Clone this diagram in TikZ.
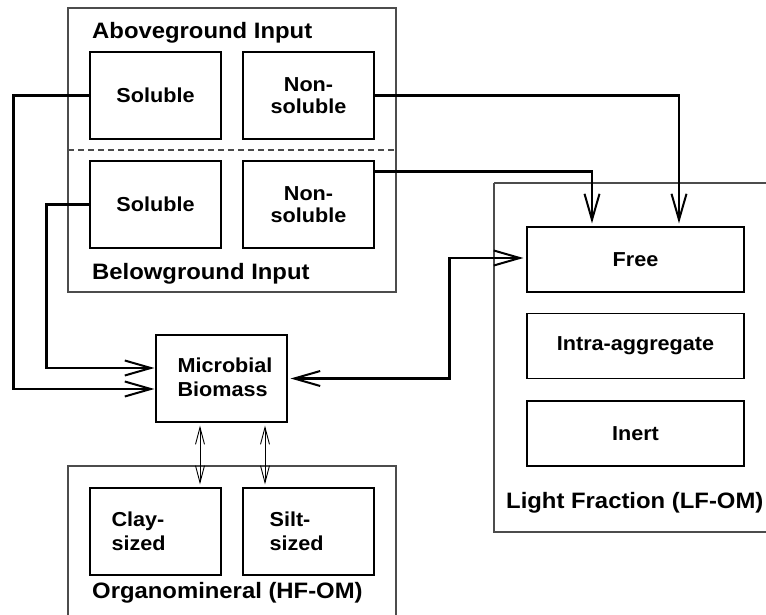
\documentclass[tikz,border=0pt]{standalone}
\usepackage{fontspec}
\setmainfont{Liberation Sans}[FakeStretch=1.07]
\usetikzlibrary{arrows.meta,calc}
\begin{document}
\begin{tikzpicture}[x=1pt,y=-1pt,
  outerbox/.style={draw=black!70,line width=1.1pt},
  innerbox/.style={draw=black,line width=1.2pt,minimum width=131pt,minimum height=87pt,inner sep=0pt,align=center,
     font=\fontsize{20.2}{22.5}\bfseries},
  lfbox/.style={innerbox,minimum width=217pt,minimum height=65pt},
  boxtext/.style={inner sep=0pt,align=left,anchor=west,font=\fontsize{20.2}{23.5}\bfseries},
  title/.style={inner sep=0pt,anchor=base west,font=\fontsize{22.3}{24}\bfseries},
  flow/.style={line width=2.4pt,-{Straight Barb[length=26pt,width=15pt,line width=2pt]}},
  biflow/.style={line width=2.4pt,{Straight Barb[length=26pt,width=15pt,line width=2pt]}-{Straight Barb[length=26pt,width=15pt,line width=2pt]}},
  exch/.style={line width=0.9pt,{Straight Barb[length=17pt,width=9pt,line width=0.9pt]}-{Straight Barb[length=17pt,width=9pt,line width=0.9pt]}}
]
\useasboundingbox (0,0) rectangle (766,615);
% outer groups
\draw[outerbox] (68,8) rectangle (396,292);
\draw[outerbox,dashed,dash pattern=on 6pt off 4pt] (68,150) -- (396,150);
\draw[outerbox] (494,183) -- (770,183);
\draw[outerbox] (494,183) -- (494,532) -- (770,532);
\draw[outerbox] (68,630) -- (68,466) -- (396,466) -- (396,630);
% titles
\node[title] (tAbove) at (92,39) {Aboveground Input};
\node[title] (tBelow) at (92,279) {Belowground Input};
\node[title] (tHF) at (92,598) {Organomineral (HF-OM)};
\node[title] (tLF) at (506,508) {Light Fraction (LF-OM)};
% input boxes
\node[innerbox] (aS) at (155.5,95.5) {Soluble};
\node[innerbox] (aN) at (308.5,95.5) {Non-\\soluble};
\node[innerbox] (bS) at (155.5,204.5) {Soluble};
\node[innerbox] (bN) at (308.5,204.5) {Non-\\soluble};
% microbial biomass
\node[innerbox] (mb) at (221.5,378.5) {};
\node[boxtext] (mbT) at ($(mb.west)+(22,-1)$) {Microbial\\Biomass};
% organomineral
\node[innerbox] (clay) at (155.5,531.5) {};
\node[boxtext] (clayT) at ($(clay.west)+(22,0)$) {Clay-\\sized};
\node[innerbox] (silt) at (308.5,531.5) {};
\node[boxtext] (siltT) at ($(silt.west)+(27,0)$) {Silt-\\sized};
% light fraction
\node[lfbox] (free) at (635.5,259.5) {Free};
\node[lfbox] (intra) at (635.5,346) {Intra-aggregate};
\node[lfbox] (inert) at (635.5,433.5) {Inert};
% connectors
\draw[flow] (aS.west) -- ++(-76,0) |- ($(mb.west)+(-1,10.5)$);
\draw[flow] (bS.west) -- ++(-43,0) |- ($(mb.west)+(-1,-10.5)$);
\draw[flow] (aN.east) -| ($(free.north)+(43.5,-3)$);
\draw[flow] ($(bN.north east)+(0,11)$) -| ($(free.north)+(-43.5,-3)$);
\draw[biflow] ($(free.west)+(-3,-1.5)$) -- ($(free.west)+(-77,-1.5)$) |- ($(mb.east)+(3,0)$);
\draw[exch] ($(mb.south)+(-21.5,3)$) -- ($(clay.north)+(44.5,-3)$);
\draw[exch] ($(mb.south)+(43.5,3)$) -- ($(silt.north)+(-43.5,-3)$);
\end{tikzpicture}
\end{document}
